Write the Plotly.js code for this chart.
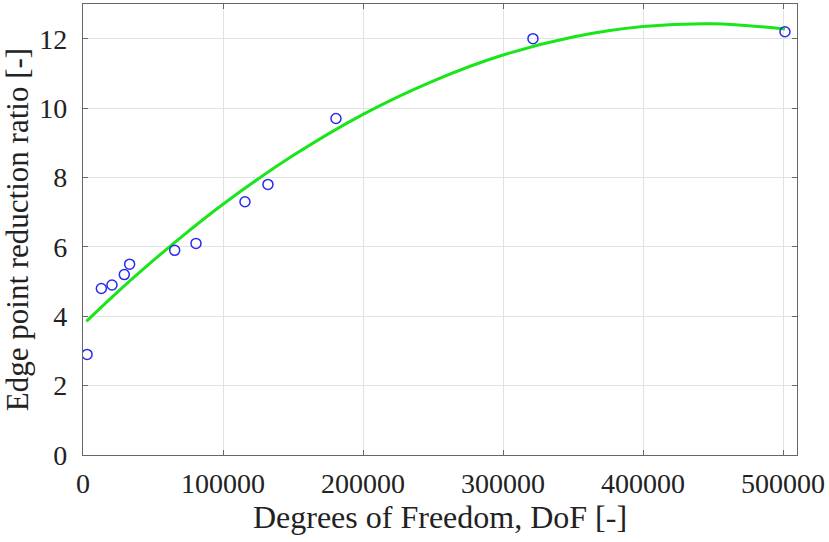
<!DOCTYPE html>
<html>
<head>
<meta charset="utf-8">
<script src="https://cdn.plot.ly/plotly-3.0.1.min.js"></script>
<style>html,body{margin:0;padding:0;background:#fff;}#chart{width:829px;height:542px;}</style>
</head>
<body>
<div id="chart"></div>
<script>
// Measured data points
const dofPoints = [2900, 13100, 20700, 29500, 33300, 65500, 80700, 115700, 132100, 180700, 321400, 501400];
const ratioPoints = [2.9, 4.8, 4.9, 5.2, 5.5, 5.9, 6.1, 7.3, 7.8, 9.7, 12.0, 12.2];

// Fitted curve
const fitDof = [2400, 25000, 50000, 75000, 100000, 150000, 200000, 250000, 300000, 350000, 400000, 450000, 501400];
const fitRatio = [3.85, 4.71, 5.60, 6.44, 7.23, 8.63, 9.82, 10.78, 11.53, 12.05, 12.35, 12.43, 12.28];

const xTicks = [0, 100000, 200000, 300000, 400000, 500000];
const yTicks = [0, 2, 4, 6, 8, 10, 12];

const fontFam = 'Liberation Serif';

const traces = [
  {
    x: fitDof, y: fitRatio, type: 'scatter', mode: 'lines',
    line: {color: '#19e619', width: 3, shape: 'spline'},
    hoverinfo: 'skip'
  },
  {
    x: dofPoints, y: ratioPoints, type: 'scatter', mode: 'markers',
    marker: {symbol: 'circle-open', size: 10, color: '#2a2aee', line: {width: 1.5, color: '#2a2aee'}}
  }
];

const axisCommon = {
  showline: true, linecolor: '#666', linewidth: 1.2, mirror: 'ticks',
  ticks: 'inside', ticklen: 5, tickcolor: '#666', tickwidth: 1,
  showgrid: true, gridcolor: '#e2e2e2', gridwidth: 1,
  zeroline: false,
  tickfont: {family: fontFam, size: 28, color: '#222'}
};

const layout = {
  width: 829, height: 542,
  margin: {l: 83, r: 32, t: 4, b: 87},
  paper_bgcolor: '#fff', plot_bgcolor: '#fff',
  showlegend: false,
  font: {family: fontFam, color: '#222'},
  xaxis: Object.assign({}, axisCommon, {
    range: [0, 510000], tickvals: xTicks, ticktext: xTicks.map(String),
    ticklabelstandoff: 3,
    title: {text: 'Degrees of Freedom, DoF [-]', font: {family: fontFam, size: 32, color: '#222'}, standoff: 4}
  }),
  yaxis: Object.assign({}, axisCommon, {
    range: [0, 13], tickvals: yTicks, ticktext: yTicks.map(String),
    ticklabelstandoff: 9,
    title: {text: 'Edge point reduction ratio [-]', font: {family: fontFam, size: 31, color: '#222'}, standoff: 4}
  })
};

Plotly.newPlot('chart', traces, layout, {displayModeBar: false, staticPlot: true});
</script>
</body>
</html>
